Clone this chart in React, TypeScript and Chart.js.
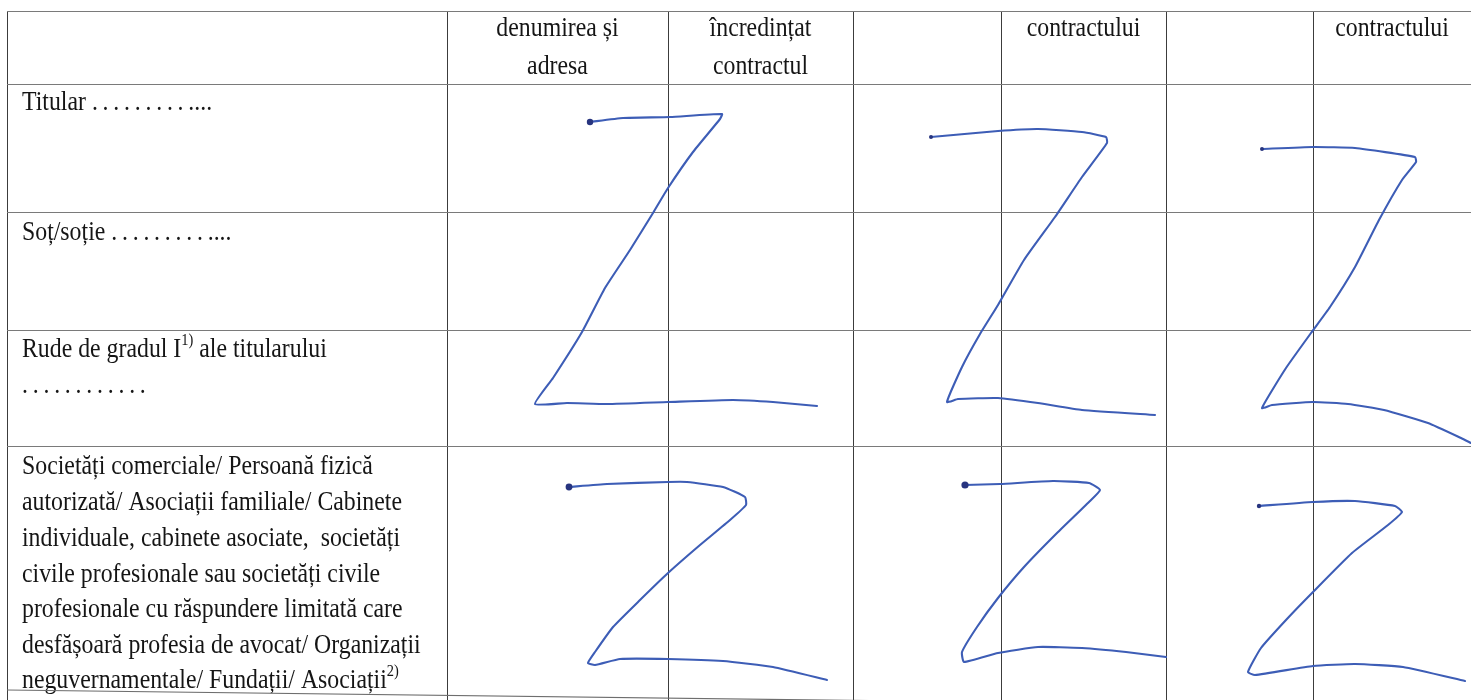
import React, { useEffect, useRef } from "react";
import { Chart, registerables } from "chart.js";

Chart.register(...registerables);

// ---- table structure (column / row boundaries, in page pixels) ----
const columnLines = [7, 447, 668, 853, 1001, 1166, 1313];
const rowLines = [12, 85, 213, 331, 447];
const tableBottomEdge: [number, number][] = [
  [7, 690],
  [1471, 708],
];

// ---- header labels (one entry per data column) ----
const headerLabels: string[][] = [
  ["denumirea și", "adresa"],
  ["încredințat", "contractul"],
  [],
  ["contractului"],
  [],
  ["contractului"],
];

// ---- row labels (first column) ----
const T = "\u2009";
const dots = (n: number) => Array.from({ length: n }, () => ".").join(T);
const rowLabels: string[][] = [
  ["Titular " + dots(9) + T + "...."],
  ["Soț/soție " + dots(9) + T + "...."],
  ["Rude de gradul I^1) ale titularului", dots(12)],
  [
    "Societăți comerciale/ Persoană fizică",
    "autorizată/ Asociații familiale/ Cabinete",
    "individuale, cabinete asociate,  societăți",
    "civile profesionale sau societăți civile",
    "profesionale cu răspundere limitată care",
    "desfășoară profesia de avocat/ Organizații",
    "neguvernamentale/ Fundații/ Asociații^2)",
  ],
];

// ---- handwritten "Z" strokes ----
const strokeTopLeft: [number, number][] = [
  [590, 122], [623, 118], [670, 117], [722, 114], [720, 119], [693, 152], [668, 188],
  [653, 213], [630, 250], [605, 288], [582, 332], [553, 378], [535, 404], [567, 403],
  [607, 404], [668, 402], [733, 400], [773, 402], [817, 406],
];
const strokeTopMid: [number, number][] = [
  [931, 137], [998, 131], [1038, 129], [1082, 132], [1106, 137], [1107, 143], [1082, 177],
  [1055, 217], [1024, 260], [998, 305], [980, 334], [962, 367], [947, 402], [958, 399],
  [998, 398], [1038, 403], [1082, 410], [1155, 415],
];
const strokeTopRight: [number, number][] = [
  [1262, 149], [1313, 147], [1355, 148], [1415, 157], [1416, 162], [1402, 180], [1379, 220],
  [1355, 267], [1330, 307], [1311, 333], [1286, 368], [1262, 408], [1272, 405], [1313, 402],
  [1348, 404], [1384, 410], [1428, 423], [1461, 438], [1471, 443],
];
const strokeBottomLeft: [number, number][] = [
  [569, 487], [607, 484], [668, 482], [687, 482], [723, 487], [745, 497], [746, 505],
  [730, 520], [700, 545], [668, 573], [640, 600], [613, 627], [595, 652], [588, 663],
  [595, 665], [620, 659], [668, 659], [723, 661], [773, 667], [827, 680],
];
const strokeBottomMid: [number, number][] = [
  [965, 485], [1000, 484], [1053, 481], [1089, 483], [1100, 490], [1089, 502], [1057, 533],
  [1024, 567], [998, 598], [977, 627], [962, 652], [964, 662], [998, 653], [1038, 647],
  [1082, 648], [1126, 652], [1166, 657],
];
const strokeBottomRight: [number, number][] = [
  [1259, 506], [1313, 502], [1355, 501], [1395, 506], [1402, 512], [1388, 525], [1352, 553],
  [1313, 592], [1286, 620], [1261, 648], [1248, 672], [1255, 675], [1313, 666], [1355, 664],
  [1403, 667], [1465, 681],
];

const strokes = [
  { pts: strokeTopLeft, dot: 3.2 },
  { pts: strokeTopMid, dot: 2 },
  { pts: strokeTopRight, dot: 2 },
  { pts: strokeBottomLeft, dot: 3.4 },
  { pts: strokeBottomMid, dot: 3.6 },
  { pts: strokeBottomRight, dot: 2.2 },
];

// ---- styling / layout ----
const W = 1471;
const H = 700;
const FONT = "'Liberation Serif', 'Times New Roman', serif";
const TEXT_COLOR = "#151515";
const PEN = "#3d5db6";
const PEN_DOT = "#27347f";
const FONT_SIZE = 28;
const CONDENSE = 0.85;

const headerBaselines = [36, 74];
const rowBaselines: number[][] = [
  [110],
  [240],
  [357, 393],
  [474, 510, 546, 581.5, 617, 652.5, 688],
];
const labelX = 22;

function drawRich(
  ctx: CanvasRenderingContext2D,
  text: string,
  x: number,
  y: number,
  size: number,
  sx: number,
  align: "left" | "center"
) {
  const parts: { t: string; sup: boolean }[] = [];
  const re = /\^(\S+)/g;
  let last = 0;
  let m: RegExpExecArray | null;
  while ((m = re.exec(text))) {
    if (m.index > last) parts.push({ t: text.slice(last, m.index), sup: false });
    parts.push({ t: m[1], sup: true });
    last = m.index + m[0].length;
  }
  if (last < text.length) parts.push({ t: text.slice(last), sup: false });

  const fontN = `${size}px ${FONT}`;
  const fontS = `${Math.round(size * 0.6)}px ${FONT}`;
  let total = 0;
  for (const p of parts) {
    ctx.font = p.sup ? fontS : fontN;
    total += ctx.measureText(p.t).width;
  }
  ctx.save();
  ctx.translate(x, y);
  ctx.scale(sx, 1);
  let cx = align === "center" ? -total / 2 : 0;
  ctx.textAlign = "left";
  ctx.textBaseline = "alphabetic";
  for (const p of parts) {
    ctx.font = p.sup ? fontS : fontN;
    ctx.fillText(p.t, cx, p.sup ? -size * 0.42 : 0);
    cx += ctx.measureText(p.t).width;
  }
  ctx.restore();
}

const textPlugin = {
  id: "tableText",
  beforeDatasetsDraw(chart: any) {
    const ctx: CanvasRenderingContext2D = chart.ctx;
    const xs = chart.scales.x;
    const ys = chart.scales.y;
    ctx.save();
    ctx.fillStyle = TEXT_COLOR;
    // header
    headerLabels.forEach((lines, i) => {
      const left = columnLines[i + 1];
      const right = i + 2 < columnLines.length ? columnLines[i + 2] : W;
      const cx = xs.getPixelForValue((left + right) / 2);
      lines.forEach((line, j) => {
        drawRich(ctx, line, cx, ys.getPixelForValue(headerBaselines[j]), FONT_SIZE, CONDENSE, "center");
      });
    });
    // rows
    rowLabels.forEach((lines, i) => {
      lines.forEach((line, j) => {
        drawRich(
          ctx,
          line,
          xs.getPixelForValue(labelX),
          ys.getPixelForValue(rowBaselines[i][j]),
          FONT_SIZE,
          CONDENSE,
          "left"
        );
      });
    });
    ctx.restore();
  },
};

export default function App() {
  const ref = useRef<HTMLCanvasElement | null>(null);

  useEffect(() => {
    const canvas = ref.current;
    if (!canvas) return;

    const datasets: any[] = strokes.map((s, k) => ({
      label: `stroke${k}`,
      data: s.pts.map(([x, y]) => ({ x, y })),
      showLine: true,
      borderColor: PEN,
      borderWidth: 2.1,
      tension: 0.15,
      pointRadius: (c: any) => (c.dataIndex === 0 ? s.dot : 0),
      pointBackgroundColor: PEN_DOT,
      pointBorderWidth: 0,
      borderCapStyle: "round",
      borderJoinStyle: "round",
    }));
    datasets.push({
      label: "tableBottom",
      data: tableBottomEdge.map(([x, y]) => ({ x, y })),
      showLine: true,
      borderColor: "#6e6e6e",
      borderWidth: 1.2,
      pointRadius: 0,
    });

    const chart = new Chart(canvas, {
      type: "scatter",
      data: { datasets },
      options: {
        animation: false,
        responsive: false,
        devicePixelRatio: 1,
        layout: { autoPadding: false, padding: { left: 7, top: 12, right: 0, bottom: 0 } },
        plugins: {
          legend: { display: false },
          tooltip: { enabled: false },
        },
        scales: {
          x: {
            type: "linear",
            min: 7,
            max: W,
            border: { display: false },
            ticks: { display: false },
            grid: { color: "#3c3c3c", lineWidth: 1, drawTicks: false },
            afterBuildTicks: (s: any) => {
              s.ticks = columnLines.map((v) => ({ value: v }));
            },
          },
          y: {
            type: "linear",
            reverse: true,
            min: 12,
            max: H,
            border: { display: false },
            ticks: { display: false },
            grid: { color: "#7a7a7a", lineWidth: 1.1, drawTicks: false },
            afterBuildTicks: (s: any) => {
              s.ticks = rowLines.map((v) => ({ value: v }));
            },
          },
        },
      } as any,
      plugins: [textPlugin],
    });

    return () => chart.destroy();
  }, []);

  return (
    <div
      style={{
        position: "fixed",
        left: 0,
        top: 0,
        width: W,
        height: H,
        background: "#ffffff",
      }}
    >
      <canvas ref={ref} width={W} height={H} style={{ width: W, height: H, display: "block" }} />
    </div>
  );
}
